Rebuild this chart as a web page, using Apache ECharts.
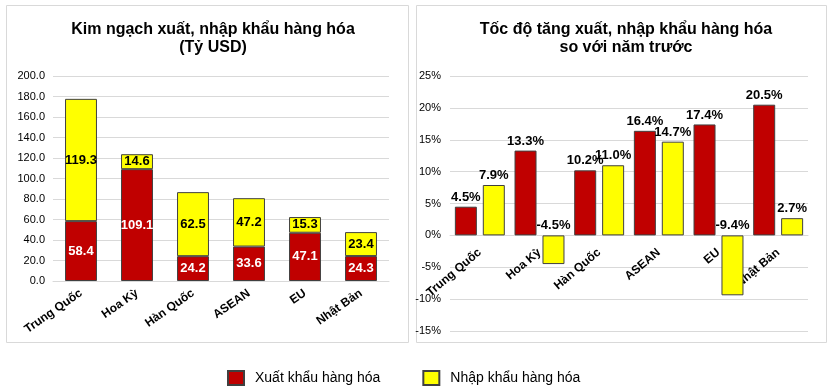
<!DOCTYPE html>
<html><head><meta charset="utf-8">
<script src="https://cdn.jsdelivr.net/npm/echarts@6/dist/echarts.min.js"></script>
<style>html,body{margin:0;padding:0;background:#fff}#c{width:838px;height:390px}</style>
</head><body><div id="c"></div>
<script>
var categories = ['Trung Quốc', 'Hoa Kỳ', 'Hàn Quốc', 'ASEAN', 'EU', 'Nhật Bản'];
var exportValue = [58.4, 109.1, 24.2, 33.6, 47.1, 24.3];
var importValue = [119.3, 14.6, 62.5, 47.2, 15.3, 23.4];
var exportGrowth = [4.5, 13.3, 10.2, 16.4, 17.4, 20.5];
var importGrowth = [7.9, -4.5, 11.0, 14.7, -9.4, 2.7];
var seriesNames = ['Xuất khẩu hàng hóa', 'Nhập khẩu hàng hóa'];
var titles = ['Kim ngạch xuất, nhập khẩu hàng hóa\n(Tỷ USD)', 'Tốc độ tăng xuất, nhập khẩu hàng hóa\nso với năm trước'];

var FONT = 'Arial, "Liberation Sans", sans-serif';
var RED = '#C00000', YEL = '#FFFF00', EDGE = '#404040';
var chart = echarts.init(document.getElementById('c'));
chart.setOption({
  animation: false,
  textStyle: {fontFamily: FONT},
  graphic: [
    {type: 'rect', shape: {x: 6.5, y: 5.5, width: 402, height: 337}, style: {fill: 'none', stroke: '#d9d9d9', lineWidth: 1}},
    {type: 'rect', shape: {x: 416.5, y: 5.5, width: 410, height: 337}, style: {fill: 'none', stroke: '#d9d9d9', lineWidth: 1}}
  ],
  title: [
    {text: titles[0], left: 208, top: 16, textAlign: 'center',
     textStyle: {fontFamily: FONT, fontSize: 16, fontWeight: 'bold', color: '#000', lineHeight: 18}},
    {text: titles[1], left: 621, top: 16, textAlign: 'center',
     textStyle: {fontFamily: FONT, fontSize: 16, fontWeight: 'bold', color: '#000', lineHeight: 18}}
  ],
  legend: {
    top: 370, left: 227, padding: 0, icon: 'rect', itemWidth: 16, itemHeight: 14, itemGap: 42,
    data: seriesNames,
    textStyle: {fontFamily: FONT, fontSize: 14, color: '#000', padding: [0, 0, 0, 6]}
  },
  grid: [
    {left: 53, right: 449, top: 76, bottom: 109},
    {left: 450, right: 30, top: 76, bottom: 59}
  ],
  xAxis: [
    {type: 'category', gridIndex: 0, data: categories,
     axisTick: {show: false}, axisLine: {lineStyle: {color: '#d9d9d9'}},
     axisLabel: {rotate: 35, interval: 0, fontFamily: FONT, fontSize: 12, fontWeight: 'bold', color: '#000', margin: 11}},
    {type: 'category', gridIndex: 1, data: categories, position: 'bottom', offset: -96,
     axisTick: {show: false}, axisLine: {onZero: false, lineStyle: {color: '#d9d9d9'}},
     axisLabel: {rotate: 40, interval: 0, fontFamily: FONT, fontSize: 12, fontWeight: 'bold', color: '#000', margin: 16}}
  ],
  yAxis: [
    {type: 'value', gridIndex: 0, min: 0, max: 200, interval: 20,
     axisLine: {show: false}, axisTick: {show: false},
     splitLine: {lineStyle: {color: '#d9d9d9'}},
     axisLabel: {fontFamily: FONT, fontSize: 11, color: '#000', margin: 8,
       formatter: function (v) { return v.toFixed(1); }}},
    {type: 'value', gridIndex: 1, min: -15, max: 25, interval: 5,
     axisLine: {show: false}, axisTick: {show: false},
     splitLine: {lineStyle: {color: '#d9d9d9'}},
     axisLabel: {fontFamily: FONT, fontSize: 11, color: '#000', margin: 9,
       formatter: '{value}%'}}
  ],
  series: [
    {name: seriesNames[0], type: 'bar', xAxisIndex: 0, yAxisIndex: 0, stack: 'a', data: exportValue,
     barWidth: '57%', itemStyle: {color: RED, borderColor: EDGE, borderWidth: 1},
     label: {show: true, position: 'inside', color: '#fff', fontFamily: FONT, fontSize: 13, fontWeight: 'bold',
       formatter: function (p) { return p.value.toFixed(1); }}},
    {name: seriesNames[1], type: 'bar', xAxisIndex: 0, yAxisIndex: 0, stack: 'a', data: importValue,
     barWidth: '57%', itemStyle: {color: YEL, borderColor: EDGE, borderWidth: 1},
     label: {show: true, position: 'inside', color: '#000', fontFamily: FONT, fontSize: 13, fontWeight: 'bold',
       formatter: function (p) { return p.value.toFixed(1); }}},
    {name: seriesNames[0], type: 'bar', xAxisIndex: 1, yAxisIndex: 1, data: exportGrowth,
     barWidth: 22, barGap: '27%', itemStyle: {color: RED, borderColor: EDGE, borderWidth: 1},
     label: {show: true, position: 'top', distance: 3, color: '#000', fontFamily: FONT, fontSize: 13, fontWeight: 'bold',
       formatter: function (p) { return p.value.toFixed(1) + '%'; }}},
    {name: seriesNames[1], type: 'bar', xAxisIndex: 1, yAxisIndex: 1, data: importGrowth,
     barWidth: 22, barGap: '27%', itemStyle: {color: YEL, borderColor: EDGE, borderWidth: 1},
     label: {show: true, position: 'top', distance: 3, color: '#000', fontFamily: FONT, fontSize: 13, fontWeight: 'bold',
       formatter: function (p) { return p.value.toFixed(1) + '%'; }}}
  ]
});
</script></body></html>
